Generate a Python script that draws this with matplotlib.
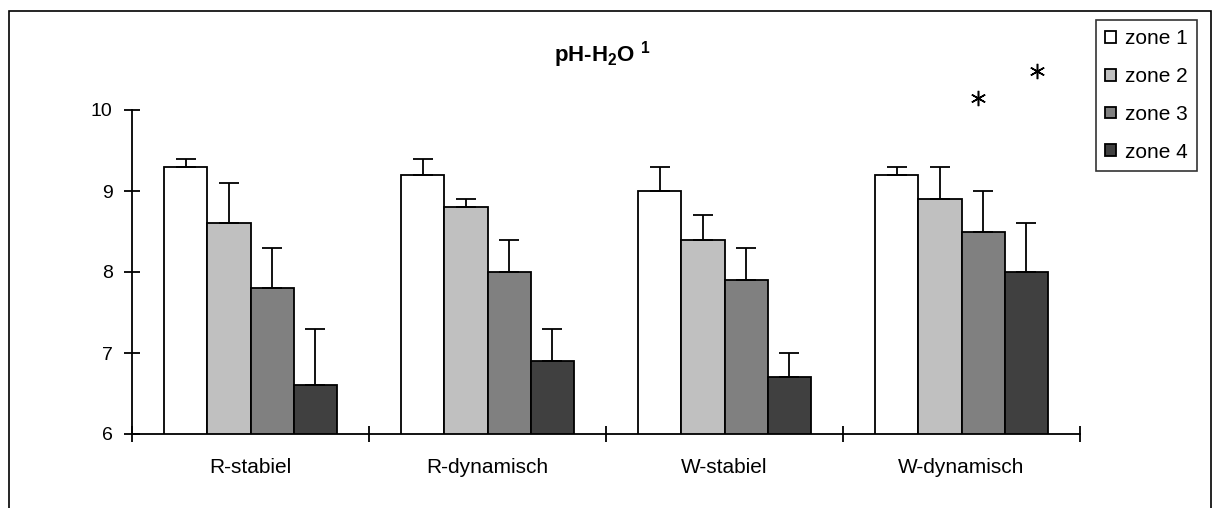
import matplotlib
matplotlib.use("Agg")
import matplotlib.pyplot as plt
from matplotlib.patches import Rectangle
import numpy as np

plt.rcParams['font.family'] = ['Liberation Sans', 'DejaVu Sans']
plt.rcParams['mathtext.default'] = 'regular'

categories = ["R-stabiel", "R-dynamisch", "W-stabiel", "W-dynamisch"]
zones = ["zone 1", "zone 2", "zone 3", "zone 4"]
means = {
    "zone 1": [9.3, 9.2, 9.0, 9.2],
    "zone 2": [8.6, 8.8, 8.4, 8.9],
    "zone 3": [7.8, 8.0, 7.9, 8.5],
    "zone 4": [6.6, 6.9, 6.7, 8.0],
}
errors = {
    "zone 1": [0.1, 0.2, 0.3, 0.1],
    "zone 2": [0.5, 0.1, 0.3, 0.4],
    "zone 3": [0.5, 0.4, 0.4, 0.5],
    "zone 4": [0.7, 0.4, 0.3, 0.6],
}
colors = ["#FFFFFF", "#C0C0C0", "#808080", "#404040"]
# significance markers (x in category units, y in pH units)
star_x = [3.07, 3.32]
star_y = [10.15, 10.48]

W, H = 1216, 508
fig = plt.figure(figsize=(W / 100, H / 100), dpi=100)
ax = fig.add_axes([132 / W, (H - 434) / H, (1080 - 132) / W, (434 - 110) / H])

n = len(zones)
bw = 1 / (n + 1.5)
x = np.arange(len(categories))
for i, z in enumerate(zones):
    pos = x + (i - (n - 1) / 2) * bw
    ax.bar(pos, means[z], bw, bottom=0, color=colors[i], edgecolor='black',
           linewidth=1.3, label=z, zorder=2)
    ax.errorbar(pos, means[z], yerr=[np.zeros(len(x)), errors[z]], fmt='none',
                ecolor='black', elinewidth=1.3, capsize=7, capthick=1.3, zorder=3)

ax.plot(star_x, star_y, linestyle='none', marker=(6, 2, 0), markersize=11,
        markeredgewidth=1.1, color='black', clip_on=False)

ax.set_ylim(6, 10)
ax.set_xlim(-0.5, len(categories) - 0.5)
ax.set_yticks([6, 7, 8, 9, 10])
ax.set_xticks(np.arange(-0.5, len(categories), 1.0))
ax.set_xticklabels([])
ax.set_xticks(x, minor=True)
ax.set_xticklabels(categories, minor=True)
ax.tick_params(axis='x', which='minor', length=0, pad=17, labelsize=15)
ax.tick_params(axis='x', which='major', direction='inout', length=12, width=1.3)
ax.tick_params(axis='y', direction='inout', length=12, width=1.3, labelsize=14, pad=8)
for s in ['top', 'right']:
    ax.spines[s].set_visible(False)
for s in ['left', 'bottom']:
    ax.spines[s].set_linewidth(1.3)
ax.set_facecolor('none')

fig.text(602 / W, (H - 55) / H, "pH-H$_2$O $^1$", ha='center', va='center',
         fontsize=16, fontweight='bold')

leg = fig.legend(loc='upper right', bbox_to_anchor=(1197 / W, (H - 20) / H),
                 fontsize=15, frameon=True, fancybox=False, edgecolor='black',
                 handlelength=0.5, handleheight=0.5, handletextpad=0.45,
                 labelspacing=0.9, borderpad=0.45, borderaxespad=0)
leg.get_frame().set_linewidth(1.2)

fig.patches.append(Rectangle((9 / W, -0.05), (1211 - 9) / W, (H - 11) / H + 0.05,
                             transform=fig.transFigure, fill=False,
                             edgecolor='black', linewidth=1.2))

fig.savefig("out.png", dpi=100)
